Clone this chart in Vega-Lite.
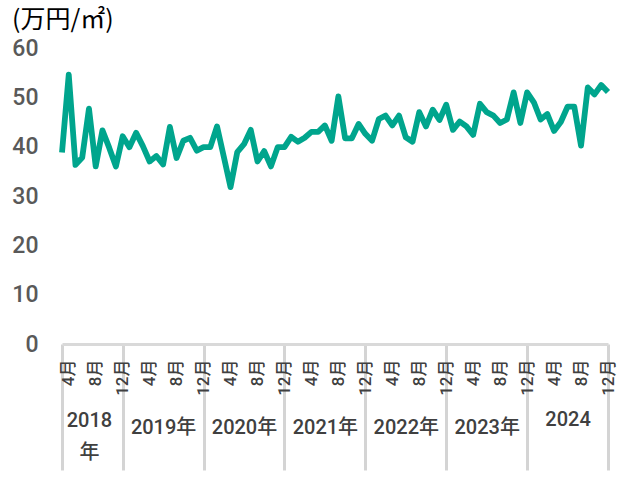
{
  "$schema": "https://vega.github.io/schema/vega-lite/v6.json",
  "width": 546,
  "height": 296,
  "autosize": {"type": "none"},
  "padding": {"left": 62, "top": 48, "right": 17, "bottom": 137},
  "background": "white",
  "config": {"view": {"stroke": null}},
  "title": {"text": "(万円/㎡)", "anchor": "start", "frame": "group", "dx": -50, "dy": 0, "fontSize": 25, "font": "Noto Sans CJK JP", "fontWeight": "normal", "color": "#000000", "offset": 4},
  "data": {"values": [
    {"ym": "2018-03", "v": 38.8}, {"ym": "2018-04", "v": 54.6}, {"ym": "2018-05", "v": 36.3}, {"ym": "2018-06", "v": 37.8},
    {"ym": "2018-07", "v": 47.7}, {"ym": "2018-08", "v": 36.0}, {"ym": "2018-09", "v": 43.3}, {"ym": "2018-10", "v": 39.8},
    {"ym": "2018-11", "v": 36.0}, {"ym": "2018-12", "v": 42.1}, {"ym": "2019-01", "v": 39.9}, {"ym": "2019-02", "v": 42.8},
    {"ym": "2019-03", "v": 40.1}, {"ym": "2019-04", "v": 37.0}, {"ym": "2019-05", "v": 38.1}, {"ym": "2019-06", "v": 36.4},
    {"ym": "2019-07", "v": 44.0}, {"ym": "2019-08", "v": 37.7}, {"ym": "2019-09", "v": 41.2}, {"ym": "2019-10", "v": 41.8},
    {"ym": "2019-11", "v": 39.2}, {"ym": "2019-12", "v": 39.9}, {"ym": "2020-01", "v": 39.9}, {"ym": "2020-02", "v": 44.1},
    {"ym": "2020-03", "v": 38.0}, {"ym": "2020-04", "v": 31.8}, {"ym": "2020-05", "v": 38.9}, {"ym": "2020-06", "v": 40.5},
    {"ym": "2020-07", "v": 43.4}, {"ym": "2020-08", "v": 37.0}, {"ym": "2020-09", "v": 39.1}, {"ym": "2020-10", "v": 36.0},
    {"ym": "2020-11", "v": 39.9}, {"ym": "2020-12", "v": 39.9}, {"ym": "2021-01", "v": 42.0}, {"ym": "2021-02", "v": 41.0},
    {"ym": "2021-03", "v": 41.8}, {"ym": "2021-04", "v": 43.0}, {"ym": "2021-05", "v": 43.0}, {"ym": "2021-06", "v": 44.3},
    {"ym": "2021-07", "v": 41.2}, {"ym": "2021-08", "v": 50.2}, {"ym": "2021-09", "v": 41.7}, {"ym": "2021-10", "v": 41.7},
    {"ym": "2021-11", "v": 44.6}, {"ym": "2021-12", "v": 42.6}, {"ym": "2022-01", "v": 41.2}, {"ym": "2022-02", "v": 45.6},
    {"ym": "2022-03", "v": 46.3}, {"ym": "2022-04", "v": 44.3}, {"ym": "2022-05", "v": 46.3}, {"ym": "2022-06", "v": 41.9},
    {"ym": "2022-07", "v": 41.0}, {"ym": "2022-08", "v": 47.0}, {"ym": "2022-09", "v": 44.1}, {"ym": "2022-10", "v": 47.5},
    {"ym": "2022-11", "v": 45.4}, {"ym": "2022-12", "v": 48.5}, {"ym": "2023-01", "v": 43.4}, {"ym": "2023-02", "v": 45.1},
    {"ym": "2023-03", "v": 44.1}, {"ym": "2023-04", "v": 42.4}, {"ym": "2023-05", "v": 48.7}, {"ym": "2023-06", "v": 47.0},
    {"ym": "2023-07", "v": 46.3}, {"ym": "2023-08", "v": 44.8}, {"ym": "2023-09", "v": 45.5}, {"ym": "2023-10", "v": 51.0},
    {"ym": "2023-11", "v": 44.8}, {"ym": "2023-12", "v": 51.0}, {"ym": "2024-01", "v": 49.0}, {"ym": "2024-02", "v": 45.5},
    {"ym": "2024-03", "v": 46.6}, {"ym": "2024-04", "v": 43.2}, {"ym": "2024-05", "v": 45.0}, {"ym": "2024-06", "v": 48.1},
    {"ym": "2024-07", "v": 48.1}, {"ym": "2024-08", "v": 40.2}, {"ym": "2024-09", "v": 52.0}, {"ym": "2024-10", "v": 50.6},
    {"ym": "2024-11", "v": 52.5}, {"ym": "2024-12", "v": 51.1}
  ]},
  "resolve": {"axis": {"x": "independent"}},
  "layer": [
    {
      "mark": {"type": "point", "opacity": 0},
      "encoding": {
        "x": {"field": "ym", "type": "ordinal", "sort": "ascending", "scale": {"type": "point", "padding": 0},
          "axis": {"orient": "bottom", "title": null, "labels": false, "domain": false, "grid": false,
            "ticks": true, "tickSize": 126, "tickWidth": 3, "tickColor": "#d4d4d4",
            "values": ["2018-03", "2018-12", "2019-12", "2020-12", "2021-12", "2022-12", "2023-12", "2024-12"]}}
      }
    },
    {
      "mark": {"type": "point", "opacity": 0},
      "encoding": {
        "x": {"field": "ym", "type": "ordinal", "sort": "ascending", "scale": {"type": "point", "padding": 0},
          "axis": {"orient": "bottom", "title": null, "domain": false, "grid": false, "ticks": false, "tickSize": 0,
            "values": ["2018-07", "2019-06", "2020-06", "2021-06", "2022-06", "2023-06", "2024-06"],
            "labelExpr": "slice(datum.value,0,4) == '2018' ? ['2018','年'] : (slice(datum.value,0,4) == '2024' ? '2024' : slice(datum.value,0,4) + '年')",
            "labelAngle": 0, "labelAlign": "center", "labelBaseline": "middle", "labelLineHeight": 32,
            "labelPadding": {"condition": [{"test": "slice(datum.value,0,4) == '2018'", "value": 76}, {"test": "slice(datum.value,0,4) == '2024'", "value": 75}], "value": 83},
            "labelFont": "Roboto, Noto Sans CJK JP", "labelFontSize": 20, "labelFontWeight": 500, "labelColor": "#404040",
            "labelOverlap": false, "labelFlush": false}}
      }
    },
    {
      "mark": {"type": "line", "color": "#00A58D", "strokeWidth": 5.8, "strokeJoin": "round", "strokeCap": "butt"},
      "encoding": {
        "x": {"field": "ym", "type": "ordinal", "sort": "ascending", "scale": {"type": "point", "padding": 0},
          "axis": {"orient": "bottom", "title": null, "grid": false, "ticks": false, "tickSize": 0,
            "domain": true, "domainColor": "#d9d9d9", "domainWidth": 3,
            "values": ["2018-04", "2018-08", "2018-12", "2019-04", "2019-08", "2019-12", "2020-04", "2020-08", "2020-12", "2021-04", "2021-08", "2021-12", "2022-04", "2022-08", "2022-12", "2023-04", "2023-08", "2023-12", "2024-04", "2024-08", "2024-12"],
            "labelExpr": "(+slice(datum.value,5)) + '月'",
            "labelAngle": 270, "labelAlign": "right", "labelBaseline": "middle", "labelPadding": 15,
            "labelFont": "Roboto, Noto Sans CJK JP", "labelFontSize": 17, "labelFontWeight": 500, "labelColor": "#404040",
            "labelOverlap": false, "labelFlush": false}},
        "y": {"field": "v", "type": "quantitative", "scale": {"domain": [0, 60], "nice": false, "zero": true},
          "axis": {"title": null, "grid": false, "domain": false, "ticks": false, "tickSize": 0,
            "values": [0, 10, 20, 30, 40, 50, 60], "labelPadding": 24,
            "labelFont": "Roboto", "labelFontSize": 23, "labelFontWeight": 500, "labelColor": "#595959"}}
      }
    }
  ]
}
